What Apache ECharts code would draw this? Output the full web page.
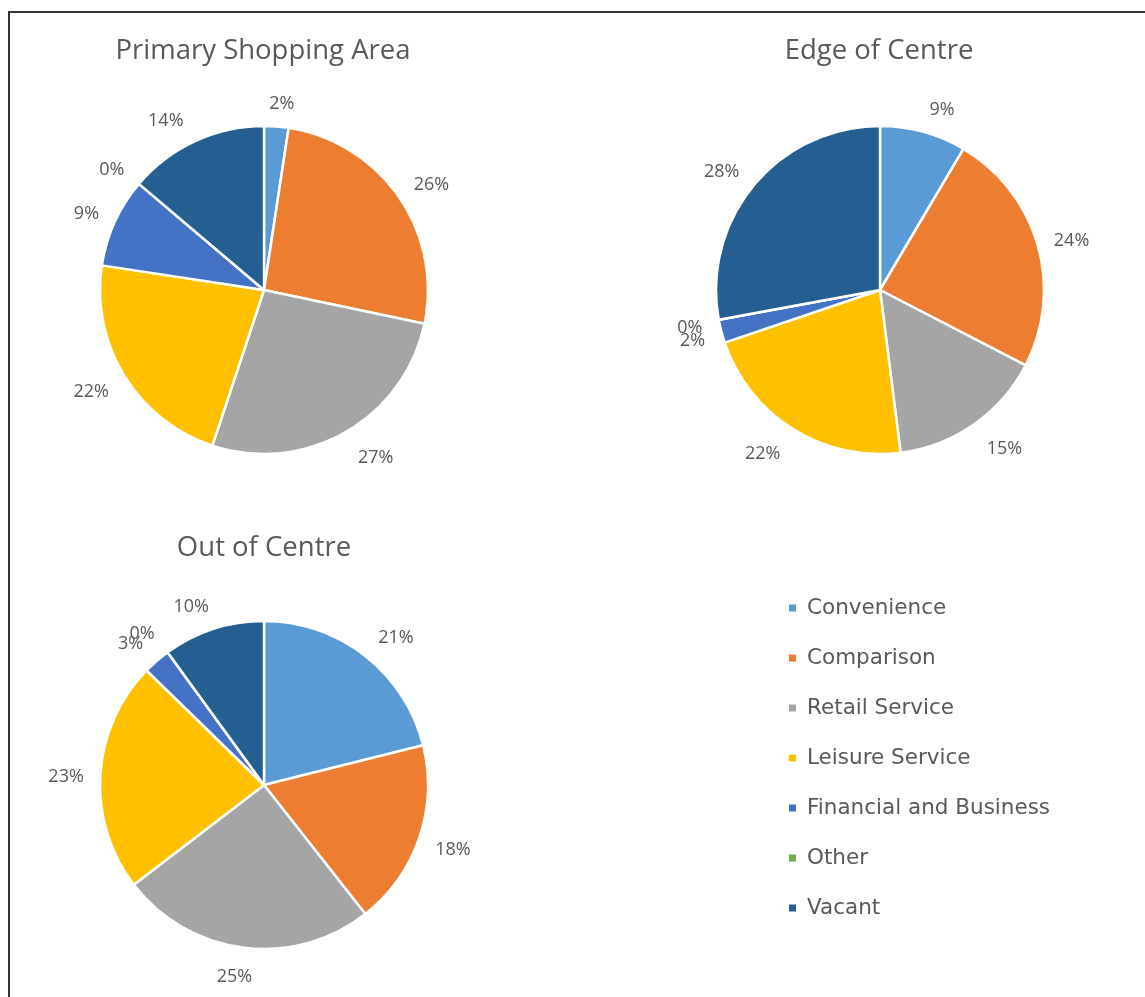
<!DOCTYPE html>
<html>
<head>
<meta charset="utf-8">
<script src="https://cdn.jsdelivr.net/npm/echarts@6/dist/echarts.min.js"></script>
<style>
  html, body { margin: 0; padding: 0; background: #fff; }
  #main { width: 1145px; height: 997px; }
  #frame { position: absolute; left: 8px; top: 11px; right: 0; bottom: 0;
           border-left: 2px solid #333; border-top: 2px solid #333; pointer-events: none; }
</style>
</head>
<body>
<div id="main"></div>
<div id="frame"></div>
<script>
  // categories shared by all three pies
  const categories = ['Convenience', 'Comparison', 'Retail Service', 'Leisure Service',
    'Financial and Business', 'Other', 'Vacant'];
  const colors = ['#5B9BD5', '#ED7D31', '#A5A5A5', '#FFC000', '#4472C4', '#70AD47', '#255E91'];

  // shares (%)
  const primaryShopping = [2.4, 25.9, 26.8, 22.3, 8.8, 0, 13.8];
  const edgeOfCentre = [8.5, 24.1, 15.4, 21.8, 2.3, 0, 27.9];
  const outOfCentre = [21.1, 18.3, 25.2, 22.7, 2.7, 0, 10.0];

  const pieValues = [primaryShopping, edgeOfCentre, outOfCentre];
  const pieCenters = [[264, 290], [880, 290], [264, 785]];
  const RADIUS = 164;

  // Excel-like "outside end" labels: placed off the slice's mid angle,
  // pushed sideways by roughly half the label width
  const outsideEnd = (params) => {
    const vals = pieValues[params.seriesIndex];
    const total = vals.reduce((a, b) => a + b, 0);
    let before = 0;
    for (let k = 0; k < params.dataIndex; k++) before += vals[k];
    const mid = (before + vals[params.dataIndex] / 2) / total * Math.PI * 2;
    const dx = Math.sin(mid);
    const dy = -Math.cos(mid);
    const w = params.labelRect.width;
    const side = Math.min(w / 2 + 8, 63 * Math.abs(dx)) * Math.sign(dx);
    const [cx, cy] = pieCenters[params.seriesIndex];
    return {
      x: cx + dx * (RADIUS + 8.5) + side,
      y: cy + dy * (RADIUS + 26) + 3,
      align: 'center',
      verticalAlign: 'middle',
    };
  };

  const makePie = (name, idx) => ({
    name,
    type: 'pie',
    center: pieCenters[idx],
    radius: RADIUS,
    startAngle: 90,
    avoidLabelOverlap: false,
    emphasis: { disabled: true },
    itemStyle: { borderColor: '#fff', borderWidth: 2.5 },
    label: {
      position: 'outside',
      color: '#595959',
      fontSize: 18,
      fontFamily: 'Open Sans',
      formatter: (p) => Math.round(p.value) + '%',
    },
    labelLine: { show: false, length: 12, length2: 6 },
    labelLayout: outsideEnd,
    data: categories.map((c, i) => ({ name: c, value: pieValues[idx][i] })),
  });

  const titleStyle = { color: '#595959', fontSize: 27.5, fontWeight: 'normal', fontFamily: 'Open Sans' };

  const options = {
    animation: false,
    color: colors,
    title: [
      { text: 'Primary Shopping Area', left: 263, top: 37, padding: 0, textAlign: 'center', textStyle: titleStyle },
      { text: 'Edge of Centre', left: 879, top: 37, padding: 0, textAlign: 'center', textStyle: titleStyle },
      { text: 'Out of Centre', left: 264, top: 534, padding: 0, textAlign: 'center', textStyle: titleStyle },
    ],
    legend: {
      orient: 'vertical',
      left: 787,
      top: 597,
      padding: 0,
      icon: 'rect',
      itemWidth: 9,
      itemHeight: 9,
      itemGap: 28,
      data: categories,
      selectedMode: false,
      textStyle: { color: '#595959', fontSize: 21.5, fontFamily: 'DejaVu Sans', lineHeight: 22, padding: [0, 0, 0, 5] },
    },
    series: [
      makePie('Primary Shopping Area', 0),
      makePie('Edge of Centre', 1),
      makePie('Out of Centre', 2),
    ],
  };

  const myChart = echarts.init(document.getElementById('main'));
  myChart.setOption(options);
</script>
</body>
</html>
